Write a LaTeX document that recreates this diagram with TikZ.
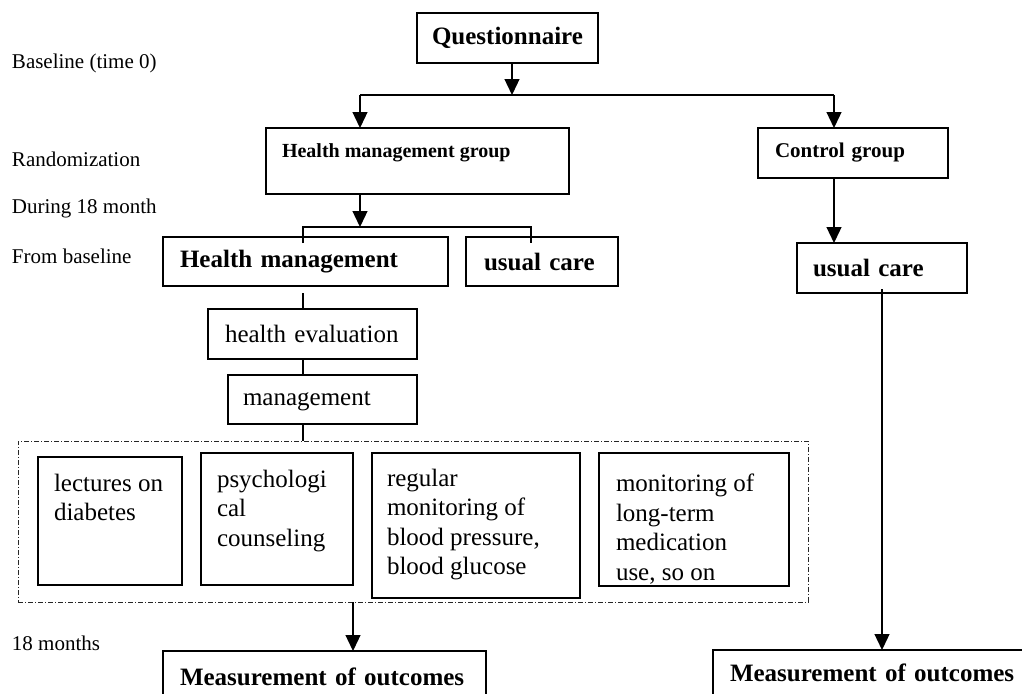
\documentclass[tikz,border=0pt]{standalone}
\usepackage{fontspec}
\setmainfont{Liberation Serif}
\usetikzlibrary{positioning,arrows.meta}

\begin{document}
\begin{tikzpicture}[x=1pt,y=-1pt,every node/.style={inner sep=0pt,outer sep=0pt},
  box/.style={draw,line width=1.3pt,anchor=north west,align=left,font=\fontsize{25}{29.5}\selectfont},
  boldbox/.style={box,font=\fontsize{25}{30}\selectfont\bfseries},
  itemtext/.style={anchor=north west,align=left,font=\fontsize{25}{29.5}\selectfont},
  timelabel/.style={anchor=west,font=\fontsize{21}{25}\selectfont},
  line/.style={draw,line width=1.3pt},
  arrow/.style={line,-{Triangle[length=16pt,width=15pt]}}]
  \clip (0,0) rectangle (1022,693);
  % time axis
  \node[timelabel] (t0) at (12,63) {Baseline (time 0)};
  \node[timelabel] (t1) at (12,159) {Randomization};
  \node[timelabel] (t2) at (12,208) {During 18 month};
  \node[timelabel] (t3) at (12,256) {From baseline};
  \node[timelabel] (t4) at (12,643) {18 months};
  % boxes
  \node[boldbox,minimum width=181pt,minimum height=50pt] (quest) at (417,13) {Questionnaire};
  \node[box,minimum width=303pt,minimum height=66pt] (hmg) at (266,128) {};
  \node[anchor=west,font=\fontsize{20}{24}\selectfont\bfseries] (hmgtext) at ([xshift=16pt,yshift=8pt]hmg.west) {Health management group};
  \node[boldbox,font=\fontsize{21}{25}\selectfont\bfseries,inner xsep=17pt,text width=156pt,minimum height=50pt] (cg) at (758,128) {Control group};
  \node[boldbox,inner xsep=17pt,text width=251pt,minimum height=49pt] (hm) at (163,237) {Health management};
  \node[boldbox,inner xsep=18pt,text width=116pt,minimum height=49pt,xshift=18pt] (ucm) at (hm.north east) {usual care};
  \node[boldbox,inner xsep=16pt,text width=138pt,minimum height=50pt] (ucr) at (797,243) {usual care};
  \node[box,inner xsep=17pt,text width=175pt,minimum height=50pt] (eval) at (208,309) {health evaluation};
  \node[box,inner xsep=15pt,text width=159pt,minimum height=49pt] (mgmt) at (228,375) {\strut management};
  \node[draw,anchor=north west,line width=0.8pt,black!85,dash pattern=on 5pt off 2pt on 1pt off 2pt,minimum width=790pt,minimum height=161pt] (acts) at (18,441) {};
  \node[box,minimum width=144pt,minimum height=128pt] (lect) at (38,457) {};
  \node[box,minimum width=152pt,minimum height=132pt] (psych) at (201,453) {};
  \node[box,minimum width=208pt,minimum height=145pt] (reg) at (372,453) {};
  \node[box,minimum width=190pt,minimum height=133pt] (mon) at (599,453) {};
  \node[itemtext] (lecttext) at ([xshift=16pt,yshift=-17pt]lect.north west) {lectures on\\diabetes};
  \node[itemtext] (psychtext) at ([xshift=16pt,yshift=-17pt]psych.north west) {psychologi\\cal\\counseling};
  \node[itemtext] (regtext) at ([xshift=15pt,yshift=-16pt]reg.north west) {regular\\monitoring of\\blood pressure,\\blood glucose};
  \node[itemtext] (montext) at ([xshift=17pt,yshift=-21pt]mon.north west) {monitoring of\\long-term\\medication\\use, so on};
  \node[boldbox,inner xsep=17pt,text width=289pt,minimum height=52pt] (measl) at (163,651) {Measurement of outcomes};
  \node[boldbox,inner xsep=17pt,text width=296pt,minimum height=46pt] (measr) at (713,650) {Measurement of outcomes};
  % connectors
  \coordinate (split) at (512,95);
  \coordinate (lsplit) at (360,95);
  \coordinate (rsplit) at (834,95);
  \coordinate (hsplit) at (360,227);
  \coordinate (hmtop) at (303,227);
  \coordinate (uctop) at (531,227);
  \draw[arrow] (split |- quest.south) -- (split);
  \draw[line] (lsplit) -- (rsplit);
  \draw[arrow] (lsplit) -- (lsplit |- hmg.north);
  \draw[arrow] (rsplit) -- (rsplit |- cg.north);
  \draw[arrow] (hsplit |- hmg.south) -- (hsplit);
  \draw[line] (hmtop) ++(0,16) -- (hmtop) -- (uctop) -- ++(0,16);
  \draw[line,shorten <=7pt] (hmtop |- hm.south) -- (hmtop |- eval.north);
  \draw[line] (hmtop |- eval.south) -- (hmtop |- mgmt.north);
  \draw[line] (hmtop |- mgmt.south) -- (hmtop |- acts.north);
  \draw[arrow] (psych.east |- acts.south) -- (psych.east |- measl.north);
  \draw[arrow] (rsplit |- cg.south) -- (rsplit |- ucr.north);
  \draw[arrow] ([yshift=4pt]ucr.south) -- (ucr.south |- measr.north);
\end{tikzpicture}
\end{document}
